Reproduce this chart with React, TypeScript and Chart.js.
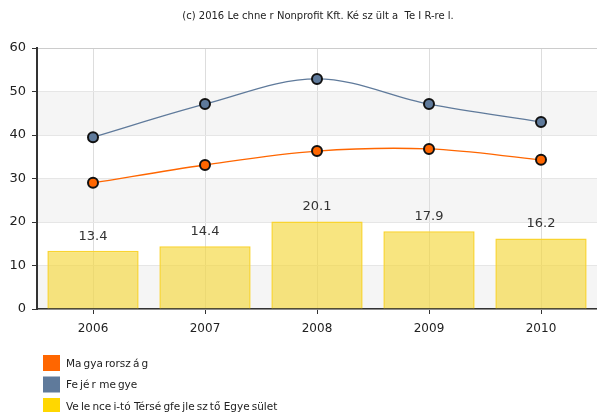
import React, { useEffect, useRef } from "react";
import { Chart, registerables } from "chart.js";

Chart.register(...registerables);

const titleText = "(c) 2016 Le chne r Nonprofit Kft. Ké sz ült a  Te I R-re l.";
const categories = ["2006", "2007", "2008", "2009", "2010"];
const seriesNames = [
  "Ma\u2009gya\u2009rorsz\u2009á\u2009g",
  "Fe\u2009jé\u2009r me\u2009gye",
  "Ve\u2009le\u2009nce\u2009i-tó Térsé\u2009gfe\u2009jle\u2009sz\u2009tő Egye\u2009sület",
];
const magyarorszag = [29.0, 33.1, 36.3, 36.8, 34.3];
const fejer = [39.5, 47.1, 52.9, 47.1, 43.0];
const velence = [13.4, 14.4, 20.1, 17.9, 16.2];
const yTicks = [0, 10, 20, 30, 40, 50, 60];

const colors = ["#ff6600", "#5f7a9b", "#ffd700"];
const FONT = "'DejaVu Sans', Verdana, sans-serif";

const decorPlugin = {
  id: "decor",
  beforeDraw(chart: any) {
    const { ctx, chartArea, scales } = chart;
    const y = scales.y;
    ctx.save();
    ctx.fillStyle = "#f5f5f5";
    for (let i = 0; i < yTicks.length - 1; i += 2) {
      const top = y.getPixelForValue(yTicks[i + 1]);
      const bot = y.getPixelForValue(yTicks[i]);
      ctx.fillRect(chartArea.left, top, chartArea.right - chartArea.left, bot - top);
    }
    ctx.restore();
  },
  afterDraw(chart: any) {
    const { ctx } = chart;
    ctx.save();
    // title
    ctx.font = `10px ${FONT}`;
    ctx.fillStyle = "#222";
    ctx.textAlign = "center";
    ctx.textBaseline = "middle";
    ctx.fillText(titleText, 318, 16);
    // bar labels
    const meta = chart.getDatasetMeta(2);
    ctx.font = `13px ${FONT}`;
    ctx.fillStyle = "#333";
    ctx.textBaseline = "bottom";
    meta.data.forEach((bar: any, i: number) => {
      ctx.fillText(String(velence[i]), bar.x, bar.y - 8);
    });
    // legend
    ctx.textAlign = "left";
    ctx.textBaseline = "middle";
    ctx.font = `10.5px ${FONT}`;
    seriesNames.forEach((name, i) => {
      const top = 355 + i * 21.5;
      ctx.fillStyle = colors[i];
      ctx.fillRect(43, top, 17, 16);
      ctx.fillStyle = "#222";
      ctx.fillText(name, 66, top + 9);
    });
    ctx.restore();
  },
};

export default function App() {
  const ref = useRef<HTMLCanvasElement | null>(null);
  useEffect(() => {
    document.body.style.margin = "0";
    const chart = new Chart(ref.current as HTMLCanvasElement, {
      type: "bar",
      data: {
        labels: categories,
        datasets: [
          {
            type: "line",
            label: seriesNames[0],
            data: magyarorszag,
            borderColor: colors[0],
            backgroundColor: colors[0],
            borderWidth: 1.3,
            pointRadius: 5,
            pointBorderWidth: 2,
            pointBorderColor: "#111",
            pointBackgroundColor: colors[0],
            tension: 0.35,
            order: 1,
          } as any,
          {
            type: "line",
            label: seriesNames[1],
            data: fejer,
            borderColor: colors[1],
            backgroundColor: colors[1],
            borderWidth: 1.3,
            pointRadius: 5,
            pointBorderWidth: 2,
            pointBorderColor: "#111",
            pointBackgroundColor: colors[1],
            tension: 0.35,
            order: 0,
          } as any,
          {
            type: "bar",
            label: seriesNames[2],
            data: velence,
            backgroundColor: "rgba(245, 215, 60, 0.65)",
            borderColor: "#f9d430",
            borderWidth: 1.5,
            categoryPercentage: 0.815,
            barPercentage: 1,
            order: 2,
          },
        ],
      },
      options: {
        animation: false,
        responsive: false,
        layout: { autoPadding: false, padding: { top: 48, right: 0, bottom: 73, left: 0 } },
        plugins: { legend: { display: false }, title: { display: false }, tooltip: { enabled: false } },
        scales: {
          x: {
            grid: { offset: false, color: "#dddddd", tickColor: "#333", tickLength: 5 },
            border: { color: "#333", width: 1.5 },
            ticks: { color: "#222", font: { family: FONT, size: 12 }, padding: 8 },
            afterFit(s: any) { s.height = 30; s.paddingLeft = 0; s.paddingRight = 0; },
          },
          y: {
            min: 0,
            max: 60,
            ticks: { stepSize: 10, color: "#222", font: { family: FONT, size: 13 }, padding: 6 },
            grid: {
              color: (c: any) => (c.tick && c.tick.value === 60 ? "#cccccc" : "#e6e6e6"),
              tickColor: "#333",
              tickLength: 5,
            },
            border: { color: "#333", width: 2 },
            afterFit(s: any) { s.width = 37; s.paddingTop = 0; s.paddingBottom = 0; },
          },
        },
      },
      plugins: [decorPlugin],
    });
    return () => chart.destroy();
  }, []);
  return <canvas ref={ref} width={597} height={412} style={{ display: "block" }} />;
}
